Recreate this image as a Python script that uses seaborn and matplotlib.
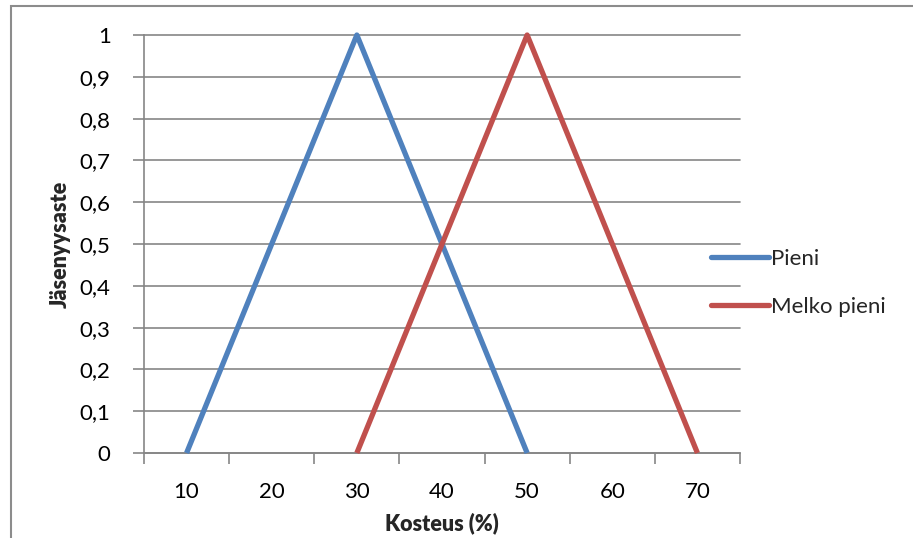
import matplotlib
matplotlib.use("Agg")
import matplotlib.pyplot as plt
import seaborn as sns
import pandas as pd
from matplotlib.patches import Rectangle
from matplotlib.lines import Line2D

series_names = ["Pieni", "Melko pieni"]
pieni_x = [10, 30, 50]
pieni_y = [0, 1, 0]
melko_x = [30, 50, 70]
melko_y = [0, 1, 0]
x_ticks = [10, 20, 30, 40, 50, 60, 70]
y_ticks = [0, 0.1, 0.2, 0.3, 0.4, 0.5, 0.6, 0.7, 0.8, 0.9, 1.0]
y_labels = ["0", "0,1", "0,2", "0,3", "0,4", "0,5", "0,6", "0,7", "0,8", "0,9", "1"]
colors = ["#4F81BD", "#C0504D"]

df = pd.DataFrame({
    "x": pieni_x + melko_x,
    "y": pieni_y + melko_y,
    "s": [series_names[0]] * 3 + [series_names[1]] * 3,
})

sns.set_theme(style="white")
plt.rcParams["font.family"] = ["Lato", "DejaVu Sans"]

W, H = 913, 538
fig = plt.figure(figsize=(W / 100, H / 100), dpi=100)
ax = fig.add_axes([144 / W, 1 - 453 / H, (740 - 144) / W, (453 - 35) / H])

sns.lineplot(data=df, x="x", y="y", hue="s", palette=colors, ax=ax,
             linewidth=3.8, sort=False, legend=False, estimator=None)
for ln in ax.lines:
    ln.set_clip_on(False)
    ln.set_solid_capstyle("butt")
    ln.set_zorder(3)

ax.set_xlim(5, 75)
ax.set_ylim(0, 1)
ax.set_xticks(x_ticks)
ax.set_xticklabels([str(t) for t in x_ticks])
ax.set_xticks([5 + 10 * i for i in range(8)], minor=True)
ax.set_yticks(y_ticks)
ax.set_yticklabels(y_labels)

grid_c = "#868686"
for yv in y_ticks:
    ax.axhline(yv, color=grid_c, lw=1.2, zorder=1, clip_on=False)
for sp in ["top", "right"]:
    ax.spines[sp].set_visible(False)
ax.spines["left"].set_color(grid_c)
ax.spines["bottom"].set_color(grid_c)
ax.spines["left"].set_linewidth(1.2)
ax.spines["bottom"].set_linewidth(1.2)

ax.tick_params(axis="x", which="major", bottom=True, length=0, labelsize=16, pad=21, colors="black")
ax.tick_params(axis="x", which="minor", bottom=True, length=8, width=1.2, color=grid_c, direction="out")
ax.tick_params(axis="y", which="major", left=True, length=8, width=1.2, color=grid_c,
               labelsize=16, pad=16, direction="out", labelcolor="black")

ax.set_xlabel("Kosteus (%)", fontsize=15.5, fontweight="heavy")
ax.set_ylabel("Jäsenyysaste", fontsize=15.5, fontweight="heavy")
ax.xaxis.set_label_coords((442 - 144) / (740 - 144), -(512 - 453) / (453 - 35))
ax.yaxis.set_label_coords(-(144 - 71) / (740 - 144), 0.5)

handles = [Line2D([0], [0], color=c, lw=3.8) for c in colors]
fig.legend(handles, series_names, loc="center left",
           bbox_to_anchor=(711 / W, 1 - 283 / H), frameon=False,
           fontsize=16, handlelength=2.6, handletextpad=0.1,
           labelspacing=1.25, borderaxespad=0, borderpad=0)

fig.patches.append(Rectangle((11 / W, -0.1), 1.2, 1.1 - 6 / H, transform=fig.transFigure,
                             fill=False, edgecolor="#8c8c8c", lw=1.5))

fig.savefig("out.png", dpi=100)
